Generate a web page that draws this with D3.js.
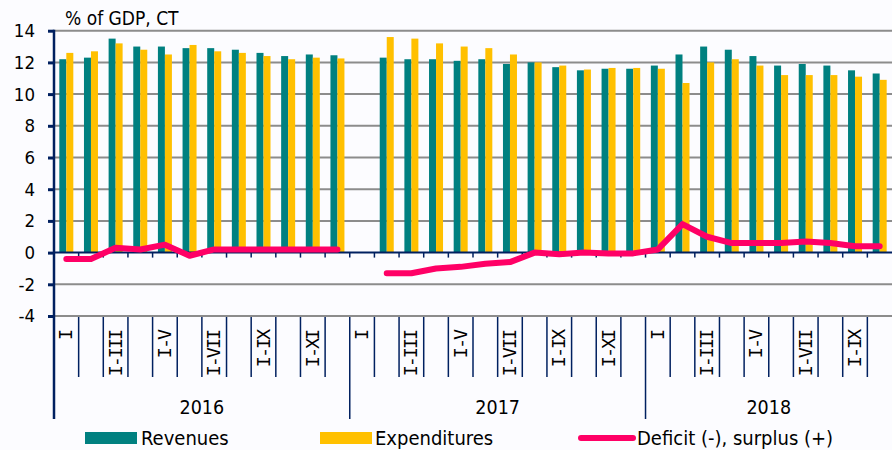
<!DOCTYPE html>
<html><head><meta charset="utf-8">
<script src="https://cdn.jsdelivr.net/npm/d3@7"></script>
<style>
body{margin:0;background:#fcfcff;}
svg{display:block;font-family:"DejaVu Sans Condensed","DejaVu Sans",sans-serif;}
</style></head><body>
<svg id="c" width="892" height="450"></svg>
<script>
const years = ["2016","2017","2018"];
const monthsPerYear = [12,12,10];
const periodLabels = ["I","I-II","I-III","I-IV","I-V","I-VI","I-VII","I-VIII","I-IX","I-X","I-XI","I-XII"];
const revenues = [12.2,12.3,13.5,13.0,13.0,12.9,12.9,12.8,12.6,12.4,12.5,12.45,
  null,12.3,12.2,12.2,12.1,12.2,11.9,12.0,11.7,11.5,11.6,11.6,
  11.8,12.5,13.0,12.8,12.4,11.8,11.9,11.8,11.5,11.3];
const expenditures = [12.6,12.7,13.2,12.8,12.5,13.1,12.7,12.6,12.4,12.2,12.3,12.25,
  null,13.6,13.5,13.2,13.0,12.9,12.5,12.0,11.8,11.55,11.65,11.65,
  11.6,10.7,12.0,12.2,11.8,11.2,11.2,11.2,11.1,10.9];
const balance = [-0.4,-0.4,0.3,0.2,0.5,-0.2,0.2,0.2,0.2,0.2,0.2,0.2,
  null,-1.3,-1.3,-1.0,-0.9,-0.7,-0.6,0.0,-0.1,0.0,-0.05,-0.05,
  0.2,1.8,1.0,0.6,0.6,0.6,0.7,0.6,0.4,0.4];
const yTicks = [-4,-2,0,2,4,6,8,10,12,14];
const seriesNames = ["Revenues","Expenditures","Deficit (-), surplus (+)"];
const colors = {rev:"#008080", exp:"#ffc000", bal:"#ff0066", axis:"#002060", grid:"#8c8c8c"};

// build categories
const cats = [];
years.forEach((y,yi)=>{ for(let m=0;m<monthsPerYear[yi];m++) cats.push({id:y+"-"+m, year:y, m, label:periodLabels[m]}); });
cats.forEach((c,i)=>{ c.rev=revenues[i]; c.exp=expenditures[i]; c.bal=balance[i]; });

const svg = d3.select("#c");
const L=54, R=892, T=30.7, B=316;
const x = d3.scaleBand().domain(cats.map(c=>c.id)).range([L,R]).paddingInner(0).paddingOuter(0);
const y = d3.scaleLinear().domain([-4,14]).range([B,T]);
const bw = 7;

// gridlines
svg.append("g").selectAll("line").data(yTicks.filter(t=>t!==0)).join("line")
  .attr("x1",L).attr("x2",R).attr("y1",d=>y(d)).attr("y2",d=>y(d))
  .attr("stroke",colors.grid).attr("stroke-width",2);

// bars
const bars = svg.append("g");
bars.selectAll(".rev").data(cats.filter(c=>c.rev!=null)).join("rect")
  .attr("x",c=>x(c.id)+x.bandwidth()/2-bw).attr("width",bw)
  .attr("y",c=>y(c.rev)).attr("height",c=>y(0)-y(c.rev)).attr("fill",colors.rev);
bars.selectAll(".exp").data(cats.filter(c=>c.exp!=null)).join("rect")
  .attr("x",c=>x(c.id)+x.bandwidth()/2).attr("width",bw)
  .attr("y",c=>y(c.exp)).attr("height",c=>y(0)-y(c.exp)).attr("fill",colors.exp);

// zero axis with ticks
svg.append("line").attr("x1",L).attr("x2",R).attr("y1",y(0)).attr("y2",y(0))
  .attr("stroke",colors.axis).attr("stroke-width",2);
svg.append("g").selectAll("line").data(cats.slice(1)).join("line")
  .attr("x1",c=>x(c.id)).attr("x2",c=>x(c.id)).attr("y1",y(0)).attr("y2",y(0)+5)
  .attr("stroke",colors.axis).attr("stroke-width",1.5);

// bottom category separators
svg.append("g").selectAll("line").data(cats.slice(1)).join("line")
  .attr("x1",c=>x(c.id)).attr("x2",c=>x(c.id))
  .attr("y1",B).attr("y2",c=>c.m===0?419:377)
  .attr("stroke",colors.axis).attr("stroke-width",1.5);
svg.append("line").attr("x1",L).attr("x2",R).attr("y1",B).attr("y2",B)
  .attr("stroke",colors.grid).attr("stroke-width",2);

// category labels (every other), reading bottom-to-top
svg.append("g").selectAll("text").data(cats.filter(c=>c.m%2===0)).join("text")
  .attr("transform",c=>`translate(${x(c.id)+x.bandwidth()/2+6},${B+15}) rotate(-90)`)
  .attr("text-anchor","end")
  .attr("font-family","'DejaVu Sans Mono',monospace")
  .attr("font-size",18.5).attr("letter-spacing",-2.1).attr("fill","#000")
  .text(c=>c.label);

// year labels
years.forEach((yr,yi)=>{
  const yc = cats.filter(c=>c.year===yr);
  const x0 = x(yc[0].id), x1 = x(yc[yc.length-1].id)+x.bandwidth();
  svg.append("text").attr("x",(x0+x1)/2).attr("y",414).attr("text-anchor","middle")
    .attr("font-size",19.5).text(yr);
});

// y axis
const yAxis = d3.axisLeft(y).tickValues(yTicks).tickSize(6).tickPadding(6).tickFormat(d=>String(d));
const ya = svg.append("g").attr("transform",`translate(${L},0)`).call(yAxis);
ya.select(".domain").remove();
ya.selectAll(".tick line").attr("stroke",colors.axis).attr("stroke-width",3);
ya.selectAll(".tick text").attr("font-size",18.5).attr("fill","#000")
  .attr("font-family","'DejaVu Sans Condensed','DejaVu Sans',sans-serif").attr("x",-19);
svg.append("line").attr("x1",L).attr("x2",L).attr("y1",T-1).attr("y2",419)
  .attr("stroke",colors.axis).attr("stroke-width",2.5);

// balance line
const line = d3.line().defined(c=>c.bal!=null).x(c=>x(c.id)+x.bandwidth()/2).y(c=>y(c.bal));
svg.append("path").datum(cats).attr("d",line).attr("fill","none")
  .attr("stroke",colors.bal).attr("stroke-width",6).attr("stroke-linecap","round").attr("stroke-linejoin","round");

// title
svg.append("text").attr("x",65).attr("y",25).attr("font-size",19).text("% of GDP, CT");

// legend
const lg = svg.append("g");
lg.append("rect").attr("x",85).attr("y",432).attr("width",52).attr("height",12).attr("fill",colors.rev);
lg.append("text").attr("x",141).attr("y",445).attr("font-size",20).text(seriesNames[0]);
lg.append("rect").attr("x",320).attr("y",432).attr("width",52).attr("height",12).attr("fill",colors.exp);
lg.append("text").attr("x",375).attr("y",445).attr("font-size",20).text(seriesNames[1]);
lg.append("line").attr("x1",581).attr("x2",633).attr("y1",438).attr("y2",438)
  .attr("stroke",colors.bal).attr("stroke-width",6).attr("stroke-linecap","round");
lg.append("text").attr("x",637).attr("y",445).attr("font-size",20).text(seriesNames[2]);
</script></body></html>
